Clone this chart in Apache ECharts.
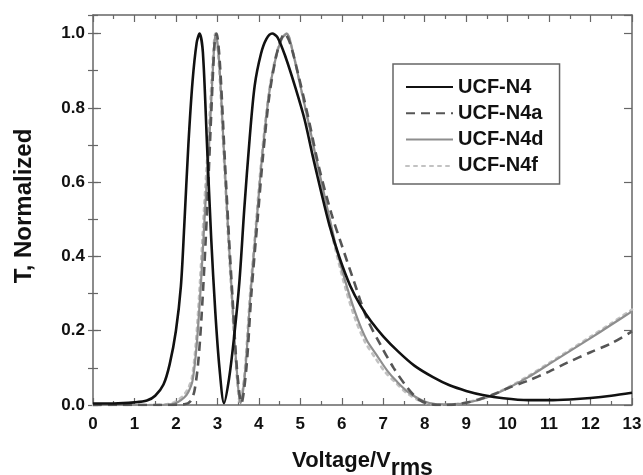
<!DOCTYPE html>
<html>
<head>
<meta charset="utf-8">
<script src="https://cdn.jsdelivr.net/npm/echarts@6/dist/echarts.min.js"></script>
<style>html,body{margin:0;padding:0;background:#fff}#c{width:643px;height:475px}</style>
</head>
<body>
<div id="c"></div>
<script>
// ---- data ----
const seriesNames = ['UCF-N4', 'UCF-N4a', 'UCF-N4d', 'UCF-N4f'];
const xTicks = [0,1,2,3,4,5,6,7,8,9,10,11,12,13];
const yTicks = ['0.0','0.2','0.4','0.6','0.8','1.0'];

const n4X = [0,0.5,1.0,1.3,1.5,1.7,1.85,2.0,2.12,2.2,2.3,2.4,2.5,2.57,2.65,2.75,2.85,2.95,3.05,3.16,3.28,3.4,3.53,3.65,3.78,3.9,4.05,4.18,4.32,4.45,4.65,4.88,5.1,5.3,5.5,5.7,5.95,6.2,6.45,6.7,7.0,7.35,7.75,8.2,8.6,9.0,9.4,9.9,10.5,11.0,11.5,12.0,12.5,13.0];
const n4Y = [0.004,0.004,0.007,0.012,0.025,0.055,0.11,0.2,0.32,0.48,0.7,0.87,0.975,1.0,0.95,0.7,0.45,0.25,0.1,0.005,0.07,0.18,0.33,0.53,0.72,0.86,0.945,0.985,1.0,0.99,0.935,0.855,0.77,0.67,0.575,0.485,0.395,0.322,0.268,0.226,0.185,0.145,0.106,0.075,0.053,0.038,0.027,0.018,0.013,0.013,0.015,0.019,0.025,0.033];

const n4aX = [0,1.5,2.2,2.35,2.45,2.55,2.65,2.75,2.85,2.93,2.98,3.06,3.18,3.28,3.37,3.47,3.58,3.7,3.82,3.97,4.1,4.25,4.4,4.52,4.62,4.75,4.95,5.2,5.45,5.75,6.0,6.29,6.6,6.93,7.25,7.58,7.85,8.14,8.5,8.9,9.3,9.67,10.0,10.48,11.0,11.44,12.0,12.5,13.0];
const n4aY = [0,0,0.002,0.01,0.04,0.13,0.3,0.52,0.78,0.97,1.0,0.92,0.66,0.45,0.28,0.1,0.005,0.1,0.3,0.5,0.67,0.83,0.93,0.98,1.0,0.975,0.89,0.77,0.64,0.515,0.43,0.334,0.235,0.163,0.1,0.047,0.015,0.002,0.0,0.004,0.015,0.029,0.045,0.065,0.09,0.114,0.142,0.166,0.198];

const n4dX = [0,1.5,1.9,2.05,2.2,2.3,2.4,2.5,2.6,2.7,2.8,2.88,2.96,3.04,3.16,3.26,3.35,3.45,3.56,3.67,3.8,3.95,4.08,4.25,4.4,4.55,4.68,4.8,5.0,5.2,5.36,5.55,5.72,5.92,6.13,6.37,6.6,6.85,7.1,7.33,7.6,7.98,8.3,8.7,9.1,9.5,10.0,10.5,11.0,11.5,12.0,12.5,13.0];
const n4dY = [0,0,0.002,0.008,0.02,0.035,0.065,0.16,0.32,0.52,0.7,0.88,1.0,0.93,0.68,0.47,0.3,0.12,0.005,0.09,0.3,0.5,0.67,0.84,0.93,0.985,1.0,0.96,0.86,0.76,0.676,0.58,0.496,0.4,0.316,0.235,0.175,0.133,0.092,0.063,0.035,0.01,0.002,0.002,0.008,0.02,0.045,0.075,0.11,0.145,0.18,0.216,0.252];

const n4fX = [0,1.5,1.85,2.0,2.15,2.27,2.38,2.48,2.58,2.68,2.78,2.87,2.95,3.03,3.15,3.25,3.34,3.44,3.55,3.66,3.79,3.94,4.07,4.24,4.39,4.54,4.67,4.8,5.0,5.2,5.35,5.53,5.7,5.9,6.1,6.33,6.56,6.8,7.05,7.3,7.57,7.95,8.3,8.7,9.1,9.5,10.0,10.5,11.0,11.5,12.0,12.5,13.0];
const n4fY = [0,0,0.003,0.01,0.022,0.04,0.07,0.165,0.33,0.53,0.71,0.89,1.0,0.93,0.68,0.47,0.3,0.12,0.005,0.09,0.3,0.5,0.67,0.84,0.93,0.985,1.0,0.96,0.86,0.755,0.67,0.575,0.49,0.395,0.31,0.23,0.17,0.128,0.088,0.06,0.032,0.008,0.001,0.002,0.009,0.022,0.047,0.078,0.113,0.148,0.184,0.22,0.257];

// ---- chart ----
const FONT = '"Liberation Sans", Arial, Helvetica, sans-serif';
const AX = '#666';
const zip = (xs, ys) => xs.map((x, i) => [x, ys[i]]);

const baseX = {
  type: 'value', min: 0, max: 13, interval: 1,
  axisLine: {show: true, onZero: false, lineStyle: {color: AX, width: 1.5}},
  axisTick: {show: true, inside: true, length: 7, lineStyle: {color: AX, width: 1.2}},
  minorTick: {show: true, splitNumber: 2, length: 4, lineStyle: {color: AX, width: 1.2}},
  splitLine: {show: false}
};
const yMain = (pos, labels) => ({
  type: 'value', min: 0, max: 1.05, interval: 0.2, position: pos,
  axisLine: {show: true, onZero: false, lineStyle: {color: AX, width: 1.5}},
  axisTick: {show: true, inside: true, length: 8, lineStyle: {color: AX, width: 1.2}},
  axisLabel: labels ? {
    show: true, showMaxLabel: false, margin: 8, color: '#111',
    fontFamily: FONT, fontWeight: 'bold', fontSize: 17,
    formatter: v => { const i = Math.round(v / 0.2); return Math.abs(v - i * 0.2) < 1e-6 && yTicks[i] !== undefined ? yTicks[i] : ''; }
  } : {show: false},
  splitLine: {show: false}
});
const yMinor = (pos) => ({
  type: 'value', min: 0, max: 1.05, interval: 0.1, position: pos,
  axisLine: {show: false},
  axisTick: {show: true, inside: true, length: 5, lineStyle: {color: AX, width: 1.2}},
  axisLabel: {show: false},
  splitLine: {show: false}
});

const chart = echarts.init(document.getElementById('c'), null, {renderer: 'canvas'});
chart.setOption({
  animation: false,
  backgroundColor: '#fff',
  grid: {left: 93, right: 11, top: 15, bottom: 70, containLabel: false, outerBoundsMode: 'none'},
  xAxis: [
    Object.assign({}, baseX, {
      position: 'bottom',
      axisLabel: {show: true, margin: 11, color: '#111', fontFamily: FONT, fontWeight: 'bold', fontSize: 17,
        formatter: v => { const i = xTicks.indexOf(Math.round(v)); return i >= 0 ? String(xTicks[i]) : ''; }},
      name: '{a|Voltage/V}{s|rms}', nameLocation: 'middle', nameGap: 45,
      nameTextStyle: {
        rich: {
          a: {fontFamily: FONT, fontWeight: 'bold', fontSize: 22, color: '#111', verticalAlign: 'top', lineHeight: 24},
          s: {fontFamily: FONT, fontWeight: 'bold', fontSize: 23, color: '#111', verticalAlign: 'top', lineHeight: 24, padding: [7, 0, 0, 0]}
        }
      }
    }),
    Object.assign({}, baseX, {position: 'top', axisLabel: {show: false}})
  ],
  yAxis: [
    Object.assign(yMain('left', true), {
      name: 'T, Normalized', nameLocation: 'middle', nameGap: 57,
      nameTextStyle: {fontFamily: FONT, fontWeight: 'bold', fontSize: 24, color: '#111', padding: [0, 0, 0, 8]}
    }),
    yMinor('left'),
    yMain('right', false),
    yMinor('right')
  ],
  legend: {
    show: true, orient: 'vertical', left: 393, top: 64,
    data: seriesNames,
    itemWidth: 47, itemHeight: 14, itemGap: 4.3,
    padding: [12, 16, 7, 12],
    borderColor: AX, borderWidth: 1.5, backgroundColor: '#fff',
    itemStyle: {opacity: 0},
    textStyle: {fontFamily: FONT, fontWeight: 'bold', fontSize: 20, color: '#111', lineHeight: 22}
  },
  series: [
    {name: seriesNames[3], type: 'line', data: zip(n4fX, n4fY), symbol: 'none', smooth: 0.3, z: 2,
      lineStyle: {color: '#c2c2c2', width: 2.6, type: [3, 5], cap: 'round'}, itemStyle: {color: '#c2c2c2'}},
    {name: seriesNames[2], type: 'line', data: zip(n4dX, n4dY), symbol: 'none', smooth: 0.3, z: 3,
      lineStyle: {color: '#8e8e8e', width: 2.2}, itemStyle: {color: '#8e8e8e'}},
    {name: seriesNames[1], type: 'line', data: zip(n4aX, n4aY), symbol: 'none', smooth: 0.3, z: 4,
      lineStyle: {color: '#555555', width: 2.6, type: [9, 6]}, itemStyle: {color: '#555555'}},
    {name: seriesNames[0], type: 'line', data: zip(n4X, n4Y), symbol: 'none', smooth: 0.3, z: 5,
      lineStyle: {color: '#111111', width: 2.6}, itemStyle: {color: '#111111'}}
  ]
});
</script>
</body>
</html>
